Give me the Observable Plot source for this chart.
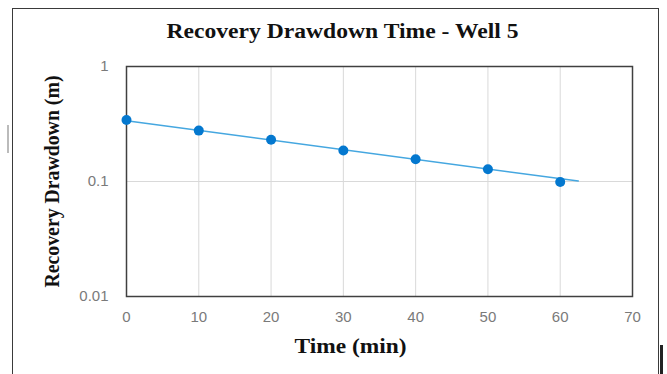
<!DOCTYPE html>
<html><head><meta charset="utf-8">
<script src="https://cdn.jsdelivr.net/npm/d3@7"></script>
<script src="https://cdn.jsdelivr.net/npm/@observablehq/plot@0.6"></script>
<style>
html,body{margin:0;padding:0;background:#fff;overflow:hidden;}
#wrap{position:relative;width:667px;height:374px;}
#frame{position:absolute;left:12px;top:8px;width:647px;height:420px;border:1.5px solid #3a3a3a;box-sizing:border-box;}
#bar{position:absolute;left:660px;top:345px;width:3px;height:40px;background:#222;}
#tick{position:absolute;left:7px;top:125px;width:1.5px;height:28px;background:#bbb;}
#chart{position:absolute;left:0;top:0;}
</style></head>
<body><div id="wrap"><div id="frame"></div><div id="bar"></div><div id="tick"></div><div id="chart"></div></div>
<script>
const time = [0, 10, 20, 30, 40, 50, 60];
const drawdown = [0.343, 0.277, 0.231, 0.186, 0.156, 0.128, 0.099];
const trendTime = [0, 62.5];
const trendValue = [0.337, 0.101];
const xTicks = [0, 10, 20, 30, 40, 50, 60, 70];
const yTicks = [0.01, 0.1, 1];
const yTickLabels = ["0.01", "0.1", "1"];
const title = "Recovery Drawdown Time - Well 5";
const xLabel = "Time (min)";
const yLabel = "Recovery Drawdown (m)";

const pts = time.map((t, i) => ({t, v: drawdown[i]}));
const trend = trendTime.map((t, i) => ({t, v: trendValue[i]}));

const labelFont = {fontWeight: "bold", fontFamily: "Liberation Serif", fill: "#111", lineAnchor: "middle", textAnchor: "middle"};

const chart = Plot.plot({
  width: 667, height: 374,
  marginLeft: 126, marginRight: 35, marginTop: 66, marginBottom: 78,
  style: {background: "transparent", overflow: "visible"},
  x: {domain: [0, 70], ticks: xTicks},
  y: {type: "log", domain: [0.01, 1], ticks: yTicks},
  marks: [
    Plot.gridX(xTicks, {stroke: "#d9d9d9", strokeOpacity: 1, strokeWidth: 1}),
    Plot.gridY(yTicks, {stroke: "#d9d9d9", strokeOpacity: 1, strokeWidth: 1}),
    Plot.frame({stroke: "#404040", strokeWidth: 1.5}),
    Plot.axisX({ticks: xTicks, tickSize: 0, tickPadding: 15, label: null,
      fontSize: 15, fontFamily: "Liberation Sans", fill: "#7a7a7a"}),
    Plot.axisY({ticks: yTicks, tickSize: 0, tickPadding: 18, label: null,
      tickFormat: d => yTickLabels[yTicks.indexOf(d)],
      fontSize: 15, fontFamily: "Liberation Sans", fill: "#7a7a7a"}),
    Plot.line(trend, {x: "t", y: "v", stroke: "#45a7e0", strokeWidth: 1.5}),
    Plot.dot(pts, {x: "t", y: "v", r: 5, fill: "#0478cf", stroke: "none"}),
    Plot.text([title], {frameAnchor: "top", dx: -37, dy: -35, text: d => d, fontSize: 20, ...labelFont, className: "ttl"}),
    Plot.text([xLabel], {frameAnchor: "bottom", dx: -29, dy: 50, text: d => d, fontSize: 20, ...labelFont, className: "xl"}),
    Plot.text([yLabel], {frameAnchor: "left", dx: -74, dy: 0, rotate: -90, text: d => d, fontSize: 20, ...labelFont, className: "yl"})
  ]
});
const svg = d3.select(chart);
svg.selectAll("g.ttl text").attr("textLength", 352).attr("lengthAdjust", "spacingAndGlyphs");
svg.selectAll("g.xl text").attr("textLength", 112).attr("lengthAdjust", "spacingAndGlyphs");
svg.selectAll("g.yl text").attr("textLength", 212).attr("lengthAdjust", "spacingAndGlyphs");
document.getElementById("chart").appendChild(chart);
</script></body></html>
